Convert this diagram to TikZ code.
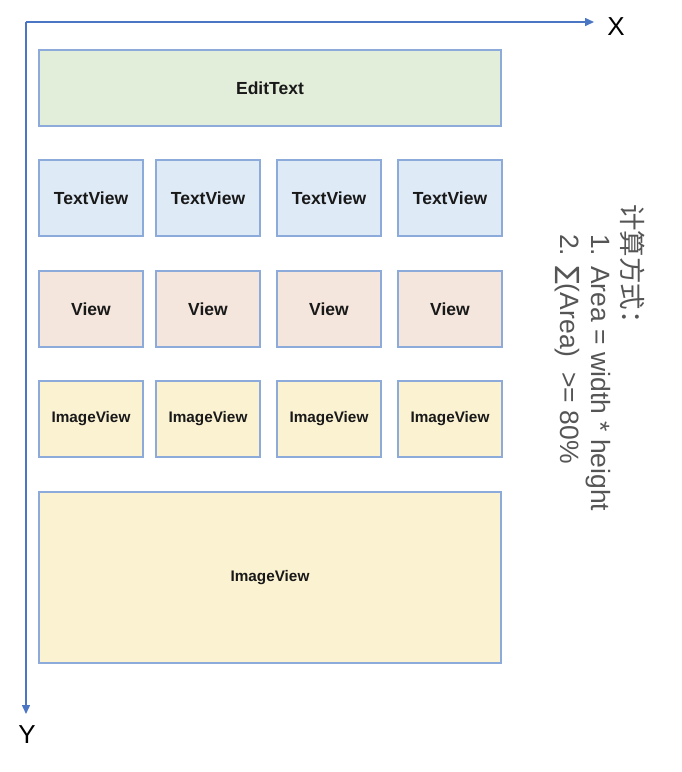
\documentclass[tikz,border=0pt]{standalone}
\usepackage{fontspec}
\setmainfont{Liberation Sans}
\newfontfamily\cjk{Noto Sans CJK SC}
\newfontfamily\symfont{DejaVu Sans}
\usetikzlibrary{arrows.meta}

\definecolor{axisblue}{RGB}{74,118,196}
\definecolor{boxline}{RGB}{140,170,218}
\definecolor{editfill}{RGB}{227,238,218}
\definecolor{textfill}{RGB}{222,234,246}
\definecolor{viewfill}{RGB}{244,230,220}
\definecolor{imagefill}{RGB}{251,242,210}
\definecolor{notegray}{RGB}{85,85,85}

\tikzset{
  widget/.style={draw=boxline,line width=1.4pt,inner sep=0pt,text=black!90,
    font=\bfseries\fontsize{17.5}{20}\selectfont},
  editbox/.style={widget,fill=editfill,minimum width=462pt,minimum height=76pt},
  textbox/.style={widget,fill=textfill,minimum width=104pt,minimum height=76pt},
  viewbox/.style={widget,fill=viewfill,minimum width=104pt,minimum height=76pt},
  imagebox/.style={widget,fill=imagefill,minimum width=104pt,minimum height=76pt,
    font=\bfseries\fontsize{15.3}{18}\selectfont},
  axis/.style={axisblue,line width=1.5pt,-{Triangle[length=9pt,width=8pt]}},
  axislabel/.style={font=\fontsize{26}{28}\selectfont,inner sep=0pt}
}

\begin{document}
\begin{tikzpicture}[x=1pt,y=-1pt]
\path[use as bounding box] (0,0) rectangle (681,772);
% axes
\coordinate (origin) at (26,22);
\coordinate (xend) at (594,22);
\coordinate (yend) at (26,714);
\draw[axis] (origin) -- (xend);
\draw[axis] (origin) -- (yend);
\node[axislabel] (xlab) at (616,27) {X};
\node[axislabel] (ylab) at (27,735) {Y};

% widgets
\node[editbox] (edit) at (270,88) {EditText};

\node[textbox] (tv1) at (91,198) {TextView};
\node[textbox] (tv2) at (208,198) {TextView};
\node[textbox] (tv3) at (329,198) {TextView};
\node[textbox] (tv4) at (450,198) {TextView};

\node[viewbox] (v1) at (91,309) {View};
\node[viewbox] (v2) at (208,309) {View};
\node[viewbox] (v3) at (329,309) {View};
\node[viewbox] (v4) at (450,309) {View};

\node[imagebox] (iv1) at (91,419) {ImageView};
\node[imagebox] (iv2) at (208,419) {ImageView};
\node[imagebox] (iv3) at (329,419) {ImageView};
\node[imagebox] (iv4) at (450,419) {ImageView};

\node[imagebox,minimum width=462pt,minimum height=171pt] (ivbig) at (270,577.5) {ImageView};

% formula
\node[rotate=-90,anchor=north west,align=left,text=notegray,inner sep=0pt,
  font=\fontsize{26.5}{31}\selectfont] (rule) at (645,204)
  {{\cjk 计算方式：}\\
   \hspace{30pt}1. Area = width * height\\
   \hspace{30pt}2. {\symfont ∑}(Area) \ >= 80\%};
\end{tikzpicture}
\end{document}
